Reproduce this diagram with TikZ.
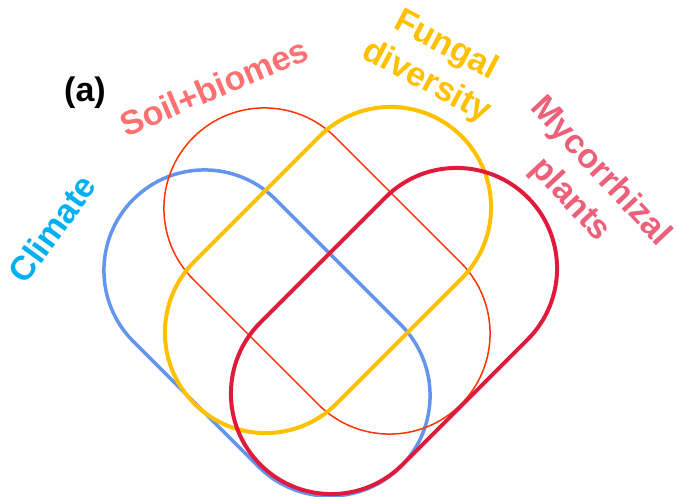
\documentclass[tikz,border=0pt]{standalone}
\usepackage{fontspec}
\setmainfont{Liberation Sans}
\usetikzlibrary{shapes.misc}
\definecolor{clblue}{HTML}{6495ED}
\definecolor{slred}{HTML}{FF3300}
\definecolor{fggold}{HTML}{FFC000}
\definecolor{mycrim}{HTML}{E01A3A}
\definecolor{cltext}{HTML}{00B0F0}
\definecolor{sltext}{HTML}{FF7171}
\definecolor{mytext}{HTML}{EC6079}

\begin{document}
\begin{tikzpicture}[
  x=1pt, y=-1pt,
  setbox/.style={rounded rectangle, minimum width=378pt, minimum height=201pt, inner sep=0pt, outer sep=0pt},
  setlabel/.style={font=\fontsize{34}{41}\selectfont\bfseries, align=center, inner sep=0pt},
]

% Frame
\useasboundingbox (0,0) rectangle (679,497);

% Sets
\node[setbox, draw=clblue, line width=3.5pt, rotate=-45] (climate) at (267,333) {};
\node[setbox, draw=slred, line width=1.5pt, rotate=-45] (soil) at (327,271) {};
\node[setbox, draw=fggold, line width=4pt, rotate=45] (fungal) at (328,270) {};
\node[setbox, draw=mycrim, line width=4pt, rotate=45] (mycor) at (394,331) {};

% Labels
\node[setlabel, text=black] (panel) at (85,93) {(a)};
\node[setlabel, text=cltext, rotate=54] (climlab) at (52,229) {Climate};
\node[setlabel, text=sltext, rotate=23] (soillab) at (214,87) {Soil+biomes};
\node[setlabel, text=fggold, rotate=-28] (funglab) at (436,64) {Fungal\\diversity};
\node[setlabel, text=mytext, rotate=-47] (mycolab) at (585,186) {Mycorrhizal\\plants};

\end{tikzpicture}
\end{document}
